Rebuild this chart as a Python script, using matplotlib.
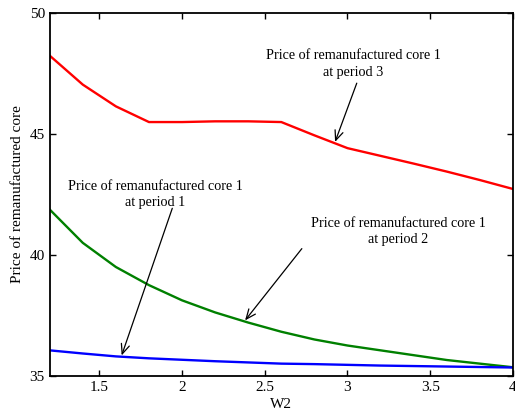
import matplotlib.pyplot as plt
import numpy as np

plt.rcParams['font.family'] = ['Liberation Serif', 'DejaVu Serif']

w2 = [1.2, 1.4, 1.6, 1.8, 2.0, 2.2, 2.4, 2.6, 2.8, 3.0, 3.2, 3.4, 3.6, 3.8, 4.0]
period1 = [36.05, 35.92, 35.80, 35.72, 35.66, 35.60, 35.55, 35.50, 35.48, 35.45, 35.42, 35.40, 35.38, 35.36, 35.34]
period2 = [41.88, 40.50, 39.50, 38.75, 38.12, 37.62, 37.20, 36.82, 36.50, 36.25, 36.05, 35.85, 35.65, 35.50, 35.35]
period3 = [48.25, 47.05, 46.15, 45.50, 45.50, 45.53, 45.53, 45.50, 44.95, 44.42, 44.10, 43.78, 43.45, 43.10, 42.73]

fig = plt.figure(figsize=(5.15, 4.17), dpi=100)
ax = fig.add_axes([0.0965, 0.099, 0.8995, 0.869])

ax.plot(w2, period3, color="#ff0000", lw=1.7)
ax.plot(w2, period2, color="#008000", lw=1.7)
ax.plot(w2, period1, color="#0000ff", lw=1.7)

arr = dict(arrowstyle="->,head_length=0.7,head_width=0.3", color="black", lw=0.9, shrinkA=0, shrinkB=0)
ax.annotate("", xy=(2.925, 44.68), xytext=(3.056, 47.11), arrowprops=arr)
ax.annotate("", xy=(1.635, 35.84), xytext=(1.941, 41.93), arrowprops=arr)
ax.annotate("", xy=(2.381, 37.29), xytext=(2.724, 40.26), arrowprops=arr)

ax.text(3.034, 47.9, "Price of remanufactured core 1\nat period 3", ha="center", va="center", fontsize=10.2, linespacing=1.35)
ax.text(1.84, 42.51, "Price of remanufactured core 1\nat period 1", ha="center", va="center", fontsize=10.2, linespacing=1.35)
ax.text(3.306, 40.96, "Price of remanufactured core 1\nat period 2", ha="center", va="center", fontsize=10.2, linespacing=1.35)

ax.set_xlim(1.2, 4)
ax.set_ylim(35, 50)
ax.set_xticks([1.5, 2, 2.5, 3, 3.5, 4])
ax.set_xticklabels(["1.5", "2", "2.5", "3", "3.5", "4"])
ax.set_yticks([35, 40, 45, 50])
ax.tick_params(direction="in", top=True, right=True, labelsize=11, length=4, width=1)
for s in ax.spines.values():
    s.set_linewidth(1.3)
ax.set_xlabel("W2", fontsize=11, labelpad=3)
ax.set_ylabel("Price of remanufactured core", fontsize=11, labelpad=4)

fig.savefig("out.png", dpi=100)
